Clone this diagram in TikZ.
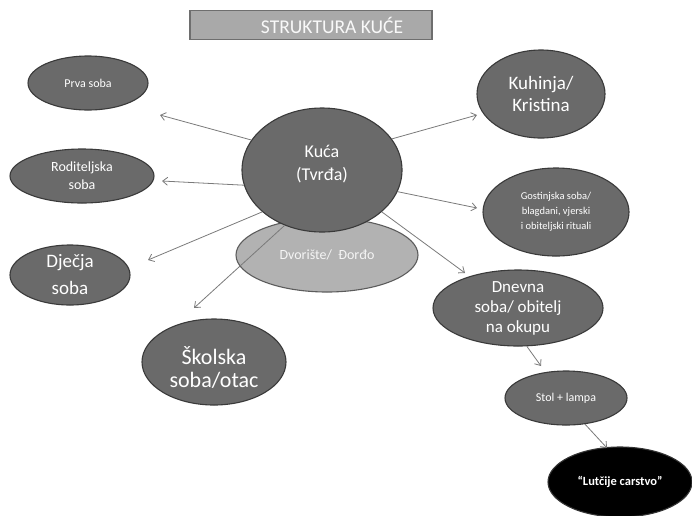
\documentclass[tikz,border=0pt]{standalone}
\usepackage{fontspec}
\setmainfont{Carlito}
\usetikzlibrary{shapes.geometric,arrows.meta}
\definecolor{ellfill}{HTML}{6A6A6A}
\definecolor{ellbord}{HTML}{3A3A3A}
\definecolor{yardfill}{HTML}{B2B2B2}
\definecolor{yardbord}{HTML}{5C5C5C}
\definecolor{titlefill}{HTML}{A9A9A9}
\definecolor{titlebord}{HTML}{6E6E6E}
\definecolor{arrcol}{HTML}{7A7A7A}
\tikzset{
  room/.style={ellipse, draw=ellbord, fill=ellfill, line width=1.1pt, inner sep=0pt, text=white, align=center},
  roomtext/.style={inner sep=0pt, text=white, align=center},
  conn/.style={draw=arrcol, line width=0.8pt, -{Straight Barb[length=5pt,width=8pt]}}
}
\begin{document}
\begin{tikzpicture}[x=1pt,y=-1pt]
\useasboundingbox (0,0) rectangle (692,515);
% title
\node[draw=titlebord, fill=titlefill, line width=1.8pt, minimum width=242pt, minimum height=29pt, inner sep=0pt, text=white!95!gray, font=\fontsize{19.5}{21}\selectfont] (title) at (311,25) {\makebox[0pt][c]{\hspace*{42pt}STRUKTURA KUĆE}};
% yard behind house
\node[ellipse, draw=yardbord, fill=yardfill, line width=1.1pt, minimum width=182pt, minimum height=74pt, inner sep=0pt, text=white!92!gray, font=\fontsize{14}{16}\selectfont] (yard) at (327,255) {\raisebox{-6pt}{Dvorište/\ \ Đorđo}};
% house
\node[room, minimum width=160pt, minimum height=124pt] (kuca) at (322,170) {};
\node[roomtext, font=\fontsize{18}{23}\selectfont] (kucatext) at (322,164) {Kuća\\(Tvrđa)};
% rooms
\node[room, minimum width=120pt, minimum height=54pt, font=\fontsize{12}{14}\selectfont] (prva) at (88,83) {Prva soba};
\node[room, minimum width=144pt, minimum height=54pt, font=\fontsize{14}{18}\selectfont] (rodit) at (82,176) {Roditeljska\\soba};
\node[room, minimum width=120pt, minimum height=60pt, font=\fontsize{19}{27}\selectfont] (djecja) at (70,275) {Dječja\\soba};
\node[room, minimum width=144pt, minimum height=86pt] (skolska) at (214,362) {};
\node[roomtext, font=\fontsize{22}{23}\selectfont] (skolskatext) at (214,367) {Školska\\soba/otac};
\node[room, minimum width=128pt, minimum height=88pt, font=\fontsize{19}{22}\selectfont] (kuhinja) at (541,94) {Kuhinja/\\Kristina};
\node[room, minimum width=146pt, minimum height=88pt, font=\fontsize{10.5}{15}\selectfont] (gost) at (556,212) {Gostinjska soba/\\blagdani, vjerski\\i obiteljski rituali};
\node[room, minimum width=170pt, minimum height=76pt, font=\fontsize{17}{20}\selectfont] (dnevna) at (518,308) {Dnevna\\soba/ obitelj\\na okupu};
\node[room, minimum width=122pt, minimum height=54pt, font=\fontsize{12}{14}\selectfont] (stol) at (566,398) {Stol + lampa};
\node[room, fill=black, draw=black!80, minimum width=144pt, minimum height=70pt, font=\fontsize{12.5}{14}\selectfont\bfseries] (lutke) at (620,482) {“Lutčije carstvo”};
% arrow tips
\coordinate (tPrva) at (160,115);
\coordinate (tRodit) at (162,181);
\coordinate (tDjecja) at (148,260);
\coordinate (tSkolska) at (194,308);
\coordinate (tKuhinja) at (477,115);
\coordinate (tGost) at (477,208);
\coordinate (tDnevna) at (465,273);
\coordinate (tStol) at (541,366);
\coordinate (tLutke) at (607,448);
% connectors
\draw[conn] (kuca.157) -- (tPrva);
\draw[conn] (kuca.191) -- (tRodit);
\draw[conn] (kuca.215) -- (tDjecja);
\draw[conn] (kuca.236) -- (tSkolska);
\draw[conn] (kuca.24) -- (tKuhinja);
\draw[conn] (kuca.344) -- (tGost);
\draw[conn] (kuca.325) -- (tDnevna);
\draw[conn] (dnevna.283) -- (tStol);
\draw[conn] (stol.306) -- (tLutke);
\end{tikzpicture}
\end{document}
